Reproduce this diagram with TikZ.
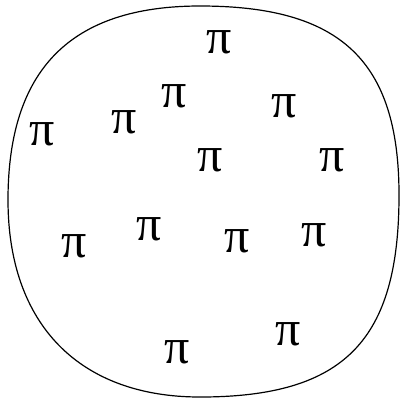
\documentclass[tikz,border=0pt]{standalone}
\usepackage{fontspec}
\setmainfont{Liberation Serif}
\usepackage{tikz}
\usetikzlibrary{positioning}

\begin{document}
\begin{tikzpicture}[x=0.5pt,y=-0.5pt,
    pisym/.style={inner sep=0pt, font=\fontsize{25}{25}\selectfont}]
  \useasboundingbox (0,0) rectangle (400,398);

  % Outline of the set
  \draw[line width=0.6pt] (200,6)
    .. controls (340,6) and (399,60) .. (399,195)
    .. controls (399,340) and (345,397) .. (200,397)
    .. controls (80,397) and (8,325) .. (8,200)
    .. controls (8,70) and (70,6) .. (200,6) -- cycle;

  % Elements
  \node[pisym] (p1) at (219,42) {π};
  \node[pisym] (p2) at (174,96) {π};
  \node[pisym] (p3) at (284,106) {π};
  \node[pisym] (p4) at (42,134) {π};
  \node[pisym] (p5) at (124,122) {π};
  \node[pisym] (p6) at (210,160) {π};
  \node[pisym] (p7) at (332,160) {π};
  \node[pisym] (p8) at (74,246) {π};
  \node[pisym] (p9) at (149,229) {π};
  \node[pisym] (p10) at (237,241) {π};
  \node[pisym] (p11) at (314,235) {π};
  \node[pisym] (p12) at (177,352) {π};
  \node[pisym] (p13) at (288,334) {π};
\end{tikzpicture}
\end{document}
